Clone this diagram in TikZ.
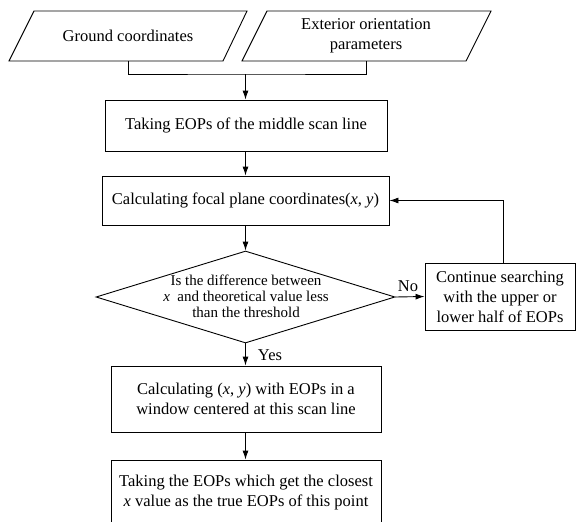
\documentclass[tikz,border=0pt]{standalone}
\usepackage{fontspec}
\setmainfont{Liberation Serif}
\usetikzlibrary{shapes.geometric,arrows.meta}
\begin{document}
\begin{tikzpicture}[x=1pt,y=-1pt,line width=0.9pt,
  box/.style={draw,rectangle,inner sep=0pt,align=center,font=\fontsize{16.5}{20}\selectfont},
  para/.style={inner sep=0pt,align=center,font=\fontsize{16.5}{20}\selectfont},
  arr/.style={-{Latex[length=9pt,width=6pt]}},
  lbl/.style={inner sep=0pt,font=\fontsize{16.5}{20}\selectfont}]
\useasboundingbox (0,0) rectangle (576,522);
\clip (0,0) rectangle (576,522);
% input parallelograms
\draw (9,61) -- (34,11) -- (247,11) -- (223,61) -- cycle;
\draw (242,61) -- (267,11) -- (491,11) -- (466,61) -- cycle;
\node[para,minimum width=200pt,minimum height=50pt] (gc) at (128,36) {Ground coordinates};
\node[para,minimum width=200pt,minimum height=50pt] (ep) at (366,36) {Exterior orientation\\parameters};
% process boxes
\node[box,minimum width=282pt,minimum height=51pt] (b1) at (246,125.5) {Taking EOPs of the middle scan line};
\node[box,minimum width=287pt,minimum height=49pt] (b2) at (245.5,200.5) {Calculating focal plane coordinates(\textit{x}, \textit{y})};
\node[draw,diamond,inner sep=0pt,minimum width=299pt,minimum height=92pt] (dec) at (245.5,297) {};
\node[inner sep=0pt,align=center,font=\fontsize{15}{16}\selectfont] (dect) at (246,296) {Is the difference between\\\textit{x}~ and theoretical value less\\than the threshold};
\node[box,minimum width=150pt,minimum height=67pt] (rb) at (500,296.5) {Continue searching\\with the upper or\\lower half of EOPs};
\node[box,minimum width=270pt,minimum height=66pt] (b3) at (246,399) {Calculating (\textit{x}, \textit{y}) with EOPs in a\\window centered at this scan line};
\node[box,minimum width=270pt,minimum height=66pt] (b4) at (246,493) {Taking the EOPs which get the closest\\\textit{x} value as the true EOPs of this point};
% connectors
\coordinate (j) at (245.5,74);
\draw (gc.south) |- (j) -| (ep.south);
\draw[arr] (j) -- (b1.north -| j);
\draw[arr] (b1.south -| j) -- (b2.north -| j);
\draw[arr] (b2.south) -- (dec.north);
\draw[arr] (dec.east) -- (rb.west);
\draw[arr] ([xshift=3pt]rb.north) |- (b2.east);
\draw[arr] (dec.south) -- (b3.north -| dec.south);
\draw[arr] (b3.south -| dec.south) -- (b4.north -| dec.south);
\node[lbl] (no) at (408,286) {No};
\node[lbl] (yes) at (270,355) {Yes};
\end{tikzpicture}
\end{document}
